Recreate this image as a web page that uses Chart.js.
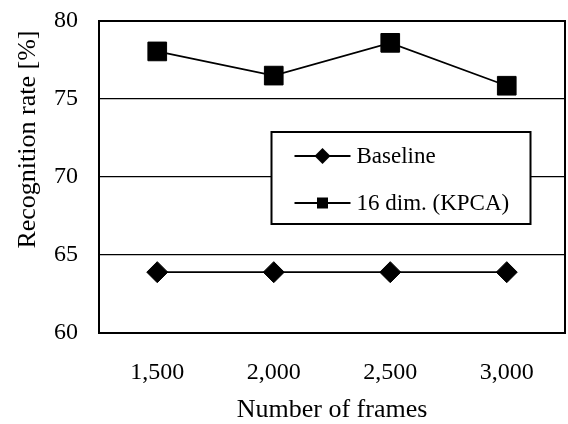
<!DOCTYPE html>
<html>
<head>
<meta charset="utf-8">
<script src="https://cdn.jsdelivr.net/npm/chart.js@4/dist/chart.umd.min.js"></script>
<style>
  html, body { margin: 0; padding: 0; background: #fff; overflow: hidden; }
  #wrap { width: 568px; height: 424px; }
</style>
</head>
<body>
<div id="wrap"><canvas id="c" width="568" height="424"></canvas></div>
<script>
const categories = ['1,500', '2,000', '2,500', '3,000'];
const baselineValues = [63.9, 63.9, 63.9, 63.9];
const kpcaValues = [78.05, 76.5, 78.6, 75.85];
const seriesNames = ['Baseline', '16 dim. (KPCA)'];
const yTickMin = 60, yTickMax = 80, yTickStep = 5;
const xTitle = 'Number of frames';
const yTitle = 'Recognition rate [%]';

const FONT = '"Liberation Serif", "Times New Roman", serif';

const framePlugin = {
  id: 'frame',
  afterDraw(chart) {
    const { ctx, chartArea: a } = chart;
    ctx.save();
    // legend box
    ctx.strokeStyle = '#000';
    ctx.lineWidth = 2;
    const bx = a.left + 172.5, by = a.top + 111, bw = 259, bh = 92;
    ctx.fillStyle = '#fff';
    ctx.fillRect(bx, by, bw, bh);
    ctx.strokeRect(bx, by, bw, bh);
    const rows = [by + 24, by + 71];
    chart.data.datasets.forEach((ds, i) => {
      const y = rows[i];
      const x0 = bx + 23, x1 = bx + 79, xm = (x0 + x1) / 2;
      ctx.strokeStyle = '#000';
      ctx.lineWidth = 1.8;
      ctx.beginPath(); ctx.moveTo(x0, y); ctx.lineTo(x1, y); ctx.stroke();
      ctx.fillStyle = '#000';
      ctx.beginPath();
      if (ds.pointStyle === 'rectRot') {
        const r = 8;
        ctx.moveTo(xm, y - r); ctx.lineTo(xm + r, y); ctx.lineTo(xm, y + r); ctx.lineTo(xm - r, y);
      } else {
        const s = 5.5;
        ctx.rect(xm - s, y - s, 2 * s, 2 * s);
      }
      ctx.closePath(); ctx.fill();
      ctx.font = '23px ' + FONT;
      ctx.textBaseline = 'middle';
      ctx.textAlign = 'left';
      ctx.fillText(ds.label, x1 + 6, y + 1);
    });

    // frame
    ctx.strokeStyle = '#000';
    ctx.lineWidth = 2;
    ctx.strokeRect(a.left, a.top, a.right - a.left, a.bottom - a.top);

    // y axis title
    ctx.font = '26px ' + FONT;
    ctx.fillStyle = '#000';
    ctx.textAlign = 'center';
    ctx.textBaseline = 'middle';
    ctx.translate(28, a.top + (a.bottom - a.top) * 0.38);
    ctx.rotate(-Math.PI / 2);
    ctx.fillText(yTitle, 0, 0);
    ctx.restore();
  }
};

new Chart(document.getElementById('c'), {
  type: 'line',
  data: {
    labels: categories,
    datasets: [
      {
        label: seriesNames[0],
        data: baselineValues,
        borderColor: '#000',
        backgroundColor: '#000',
        borderWidth: 1.8,
        pointStyle: 'rectRot',
        pointRadius: 10.5,
        pointBorderWidth: 1,
        pointHoverRadius: 10.5,
        tension: 0
      },
      {
        label: seriesNames[1],
        data: kpcaValues,
        borderColor: '#000',
        backgroundColor: '#000',
        borderWidth: 1.8,
        pointStyle: 'rect',
        pointRadius: 13.2,
        pointBorderWidth: 1,
        pointHoverRadius: 13.2,
        tension: 0
      }
    ]
  },
  options: {
    responsive: false,
    animation: false,
    events: [],
    layout: { autoPadding: false, padding: { top: 21, right: 3, left: 0, bottom: 0 } },
    plugins: {
      legend: { display: false },
      tooltip: { enabled: false },
      title: { display: false }
    },
    scales: {
      x: {
        offset: true,
        grid: { display: false, drawTicks: false },
        border: { display: false },
        ticks: { color: '#000', font: { family: FONT, size: 24 }, padding: 25, maxRotation: 0 },
        title: { display: true, text: xTitle, color: '#000', font: { family: FONT, size: 26 }, padding: { top: 0, bottom: -2 } },
        afterFit(scale) { scale.height = 91; scale.paddingLeft = 0; scale.paddingRight = 0; }
      },
      y: {
        min: yTickMin,
        max: yTickMax,
        grid: { color: '#000', lineWidth: 1.3, drawTicks: false },
        border: { display: false },
        ticks: { stepSize: yTickStep, color: '#000', font: { family: FONT, size: 24 }, padding: 21 },
        afterFit(scale) { scale.width = 99; scale.paddingTop = 0; scale.paddingBottom = 0; }
      }
    }
  },
  plugins: [framePlugin]
});
</script>
</body>
</html>
